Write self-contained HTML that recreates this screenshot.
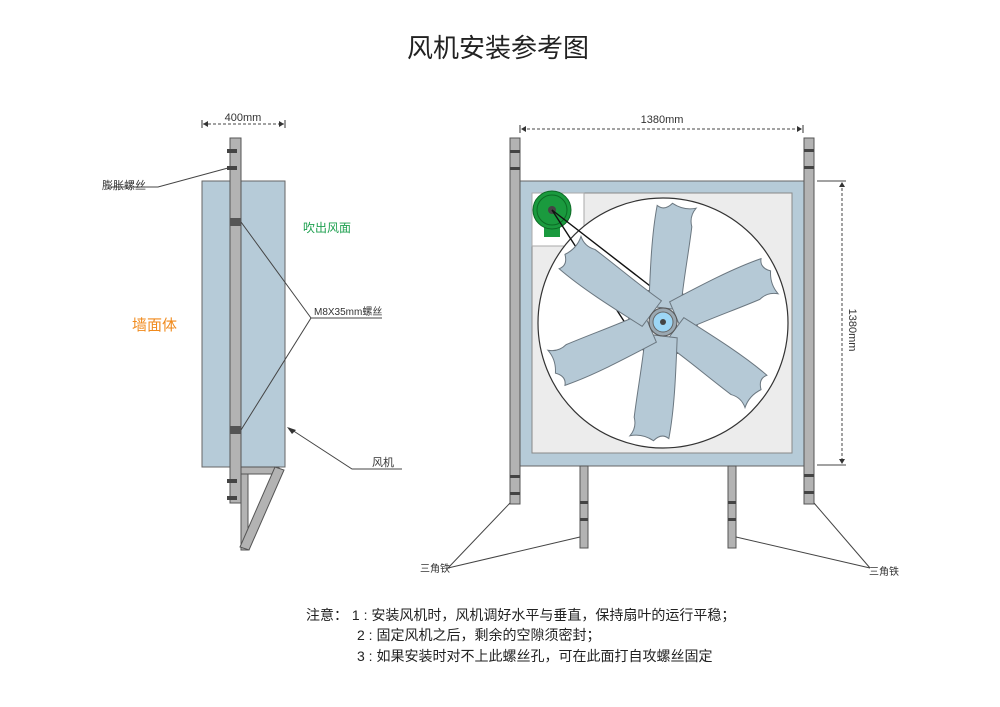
<!DOCTYPE html>
<html><head><meta charset="utf-8"><style>
html,body{margin:0;padding:0;background:#fff;}
svg{display:block;}
text{font-family:"Liberation Sans","Noto Sans CJK SC",sans-serif;}
</style></head><body>
<svg width="1000" height="707" viewBox="0 0 1000 707" xmlns="http://www.w3.org/2000/svg">
<defs>
<path id="blade" d="M -16,-14 C -19,-50 -22,-85 -20,-115 Q -12,-110 -5,-119 Q 7,-113 19,-117 Q 13,-108 17,-98 C 17,-70 15,-40 16,-14 Z" fill="#b5c9d6" stroke="#6b7780" stroke-width="1"/>
</defs>
<text x="498" y="57" font-size="26" text-anchor="middle" fill="#222">风机安装参考图</text>

<!-- LEFT VIEW -->
<g stroke="#444" stroke-width="1" stroke-dasharray="3,2" fill="none"><line x1="203" y1="124" x2="284" y2="124"/></g>
<line x1="202" y1="120" x2="202" y2="128" stroke="#333"/><line x1="285" y1="120" x2="285" y2="128" stroke="#333"/>
<path d="M203,124 l5,-3 v6z M284,124 l-5,-3 v6z" fill="#333"/>
<text x="243" y="121" font-size="11" text-anchor="middle" fill="#333">400mm</text>

<rect x="202" y="181" width="83" height="286" fill="#b6cbd8" stroke="#666" stroke-width="1"/>
<rect x="230" y="138" width="11" height="365" fill="#b3b3b3" stroke="#555" stroke-width="1"/>
<g fill="#444"><rect x="227" y="149" width="10" height="4"/><rect x="227" y="166" width="10" height="4"/><rect x="227" y="479" width="10" height="4"/><rect x="227" y="496" width="10" height="4"/></g>
<rect x="230" y="218" width="11" height="8" fill="#555"/><rect x="230" y="426" width="11" height="8" fill="#555"/>
<rect x="241" y="467" width="38" height="7" fill="#b3b3b3" stroke="#555"/>
<rect x="241" y="474" width="7" height="76" fill="#b3b3b3" stroke="#555"/>
<polygon points="275,467 284,470 249,550 240,547" fill="#b3b3b3" stroke="#555"/>

<g stroke="#444" stroke-width="1" fill="none">
<polyline points="228,168 158,187 108,187"/>
<line x1="241" y1="222" x2="311" y2="318"/><line x1="241" y1="430" x2="311" y2="318"/><line x1="311" y1="318" x2="382" y2="318"/>
<polyline points="289,428 352,469 402,469"/>
</g>
<path d="M287,427 l9,3 l-4,4z" fill="#333"/>
<text x="102" y="189" font-size="11" fill="#333">膨胀螺丝</text>
<text x="303" y="232" font-size="12" fill="#1fa050">吹出风面</text>
<text x="314" y="315" font-size="10" fill="#333">M8X35mm螺丝</text>
<text x="132" y="330" font-size="15" fill="#f08a1c">墙面体</text>
<text x="372" y="466" font-size="11" fill="#333">风机</text>

<!-- RIGHT VIEW -->
<line x1="522" y1="129" x2="801" y2="129" stroke="#444" stroke-dasharray="3,2"/>
<line x1="520" y1="125" x2="520" y2="133" stroke="#333"/><line x1="803" y1="125" x2="803" y2="133" stroke="#333"/>
<path d="M521,129 l5,-3 v6z M802,129 l-5,-3 v6z" fill="#333"/>
<text x="662" y="123" font-size="11" text-anchor="middle" fill="#333">1380mm</text>

<line x1="817" y1="181" x2="846" y2="181" stroke="#444"/><line x1="817" y1="465" x2="846" y2="465" stroke="#444"/>
<line x1="842" y1="183" x2="842" y2="463" stroke="#444" stroke-dasharray="3,2"/>
<path d="M842,182 l-3,5 h6z M842,464 l-3,-5 h6z" fill="#333"/>
<text transform="translate(849,330) rotate(90)" font-size="11" text-anchor="middle" fill="#333">1380mm</text>

<rect x="520" y="181" width="284" height="285" fill="#b6cbd8" stroke="#666"/>
<rect x="532" y="193" width="260" height="260" fill="#ececec" stroke="#888"/>
<rect x="532" y="193" width="52" height="53" fill="#fff" stroke="#aaa"/>
<rect x="510" y="138" width="10" height="366" fill="#b3b3b3" stroke="#555"/>
<rect x="804" y="138" width="10" height="366" fill="#b3b3b3" stroke="#555"/>
<rect x="580" y="466" width="8" height="82" fill="#b3b3b3" stroke="#555"/>
<rect x="728" y="466" width="8" height="82" fill="#b3b3b3" stroke="#555"/>
<g fill="#444">
<rect x="510" y="150" width="10" height="3"/><rect x="510" y="167" width="10" height="3"/><rect x="510" y="475" width="10" height="3"/><rect x="510" y="492" width="10" height="3"/>
<rect x="804" y="149" width="10" height="3"/><rect x="804" y="166" width="10" height="3"/><rect x="804" y="474" width="10" height="3"/><rect x="804" y="491" width="10" height="3"/>
<rect x="580" y="501" width="8" height="3"/><rect x="580" y="518" width="8" height="3"/><rect x="728" y="501" width="8" height="3"/><rect x="728" y="518" width="8" height="3"/>
</g>

<circle cx="663" cy="323" r="125" fill="#fff" stroke="#333" stroke-width="1.2"/>
<circle cx="663" cy="322" r="34" fill="none" stroke="#111" stroke-width="1.5"/>
<rect x="544" y="225" width="16" height="12" fill="#1a9a3e"/>
<circle cx="552" cy="210" r="19" fill="#1a9a3e" stroke="#0c6a25"/>
<circle cx="552" cy="210" r="15" fill="none" stroke="#0c6a25"/>
<circle cx="552" cy="210" r="4" fill="#444"/>
<line x1="552" y1="210" x2="654" y2="289" stroke="#111" stroke-width="1.4"/>
<line x1="552" y1="210" x2="631" y2="332" stroke="#111" stroke-width="1.4"/>

<g transform="translate(663,322)">
<use href="#blade" transform="rotate(7)"/>
<use href="#blade" transform="rotate(67)"/>
<use href="#blade" transform="rotate(127)"/>
<use href="#blade" transform="rotate(187)"/>
<use href="#blade" transform="rotate(247)"/>
<use href="#blade" transform="rotate(307)"/>
<circle r="14" fill="#9aa8b2" stroke="#555"/>
<circle r="10" fill="#9dd6f5" stroke="#666"/>
<circle r="3" fill="#444"/>
</g>

<g stroke="#444" fill="none">
<polyline points="510,503 448,568"/><polyline points="580,537 448,568"/>
<polyline points="814,503 870,568"/><polyline points="736,537 870,568"/>
</g>
<text x="420" y="572" font-size="10" fill="#333">三角铁</text>
<text x="869" y="575" font-size="10" fill="#333">三角铁</text>

<g font-size="14" fill="#222">
<text x="306" y="620">注意： 1 : 安装风机时，风机调好水平与垂直，保持扇叶的运行平稳；</text>
<text x="357" y="640">2 : 固定风机之后，剩余的空隙须密封；</text>
<text x="357" y="661">3 : 如果安装时对不上此螺丝孔，可在此面打自攻螺丝固定</text>
</g>
</svg>
</body></html>
